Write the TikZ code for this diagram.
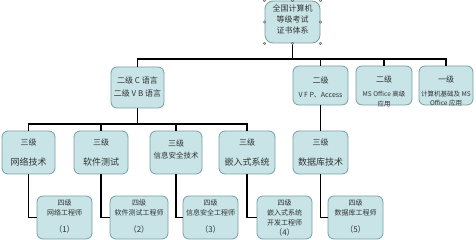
\documentclass[tikz,border=0pt]{standalone}
\usepackage{fontspec}
\setmainfont{Noto Sans CJK SC}
\usetikzlibrary{calc}
\definecolor{boxfill}{RGB}{200,228,231}
\definecolor{boxdraw}{RGB}{120,158,163}
\begin{document}
\begin{tikzpicture}[x=1pt,y=-1pt,
  box/.style={draw=boxdraw, fill=boxfill, line width=0.8pt, rounded corners=6pt, inner sep=0pt},
  txt/.style={inner sep=0pt, align=center, text=black!80},
  conn/.style={draw=black, line width=1.6pt},
  handle/.style={circle, fill=gray!45, draw=gray!70!black, line width=0.3pt, inner sep=0pt, minimum size=2.6pt}]
\useasboundingbox (0,0) rectangle (476,240);
\coordinate (bus1) at (0,59);
\coordinate (bus2) at (0,124);
% level 1
\node[box, minimum width=55pt, minimum height=42pt, rounded corners=8pt] (top) at (292.5,22) {};
\node[txt, font=\fontsize{8}{11}\selectfont] (topt) at (292.5,19) {全国计算机\\等级考试\\证书体系};
% level 2
\node[box, minimum width=53pt, minimum height=41pt] (c2) at (137.5,87.5) {};
\node[txt, font=\fontsize{8}{13}\selectfont] (c2t) at (137.5,86.5) {二级 C 语言\\二级 V B 语言};
\node[box, minimum width=55pt, minimum height=39pt] (vfp) at (320.5,85.5) {};
\node[txt, font=\fontsize{8}{14}\selectfont] (vfpt) at (320.5,87) {二级\\{\fontsize{7}{14}\selectfont V F P、Access}};
\node[box, minimum width=56pt, minimum height=39pt] (ms) at (384,85.5) {};
\node[txt, font=\fontsize{6.5}{9.5}\selectfont] (mst) at (384,91.5) {{\fontsize{8}{9.5}\selectfont 二级}\\[4.5pt]MS Office 高级\\应用};
\node[box, minimum width=54pt, minimum height=39pt] (yi) at (446,85.5) {};
\node[txt, font=\fontsize{6.5}{9.5}\selectfont] (yit) at (446,91) {{\fontsize{8}{9.5}\selectfont 一级}\\[4.5pt]计算机基础及 MS\\Office 应用};
% level 3
\node[box, minimum width=53pt, minimum height=43pt] (n1) at (28.5,152.5) {};
\node[txt, font=\fontsize{9}{20}\selectfont] (n1t) at (28.5,153) {{\fontsize{8}{20}\selectfont 三级}\\网络技术};
\node[box, minimum width=54pt, minimum height=43pt] (n2) at (101,152.5) {};
\node[txt, font=\fontsize{9}{20}\selectfont] (n2t) at (101,153) {{\fontsize{8}{20}\selectfont 三级}\\软件测试};
\node[box, minimum width=52pt, minimum height=43pt] (n3) at (176,152.5) {};
\node[txt, font=\fontsize{7.5}{12}\selectfont] (n3t) at (176,149) {{\fontsize{8}{12}\selectfont 三级}\\信息安全技术};
\node[box, minimum width=56pt, minimum height=43pt] (n4) at (247,152.5) {};
\node[txt, font=\fontsize{9}{20}\selectfont] (n4t) at (247,153) {{\fontsize{8}{20}\selectfont 三级}\\嵌入式系统};
\node[box, minimum width=55pt, minimum height=43pt] (n5) at (320.5,152.5) {};
\node[txt, font=\fontsize{9}{20}\selectfont] (n5t) at (320.5,153) {{\fontsize{8}{20}\selectfont 三级}\\数据库技术};
% level 4
\node[box, minimum width=55pt, minimum height=43pt] (m1) at (64.5,217.5) {};
\node[txt, font=\fontsize{7}{10}\selectfont] (m1t) at (64.5,216.5) {四级\\网络工程师\\[7pt]{\fontsize{8}{10}\selectfont （1）}};
\node[box, minimum width=58pt, minimum height=43pt] (m2) at (139,217.5) {};
\node[txt, font=\fontsize{7}{10}\selectfont] (m2t) at (139,216.5) {四级\\软件测试工程师\\[7pt]{\fontsize{8}{10}\selectfont （2）}};
\node[box, minimum width=55pt, minimum height=43pt] (m3) at (210.5,217.5) {};
\node[txt, font=\fontsize{7}{10}\selectfont] (m3t) at (210.5,216.5) {四级\\信息安全工程师\\[7pt]{\fontsize{8}{10}\selectfont （3）}};
\node[box, minimum width=55pt, minimum height=43pt] (m4) at (284.5,217.5) {};
\node[txt, font=\fontsize{7}{10}\selectfont] (m4t) at (284.5,218) {四级\\嵌入式系统\\开发工程师\\{\fontsize{8}{10}\selectfont （4）}};
\node[box, minimum width=55pt, minimum height=43pt] (m5) at (355.5,217.5) {};
\node[txt, font=\fontsize{7}{10}\selectfont] (m5t) at (355.5,216.5) {四级\\数据库工程师\\[7pt]{\fontsize{8}{10}\selectfont （5）}};
% connectors
\draw[conn] (c2.north) -- (c2.north |- bus1) -| (yi.north);
\draw[conn] (top.south) -- (top.south |- bus1);
\draw[conn] (vfp.north) -- (vfp.north |- bus1);
\draw[conn] (ms.north) -- (ms.north |- bus1);
\draw[conn] (n1.north) -- (n1.north |- bus2) -| (n4.north);
\draw[conn] (c2.south) -- (c2.south |- bus2);
\draw[conn] (n2.north) -- (n2.north |- bus2);
\draw[conn] (n3.north) -- (n3.north |- bus2);
\draw[conn] (vfp.south) -- (n5.north);
\foreach \i in {1,...,5} \draw[conn] (n\i.south) |- (m\i.west);
% selection handles
\foreach \a [count=\i] in {north west,north,north east,east,south east,south,south west,west}
  \node[handle] (h\i) at (top.\a) {};
\end{tikzpicture}
\end{document}
